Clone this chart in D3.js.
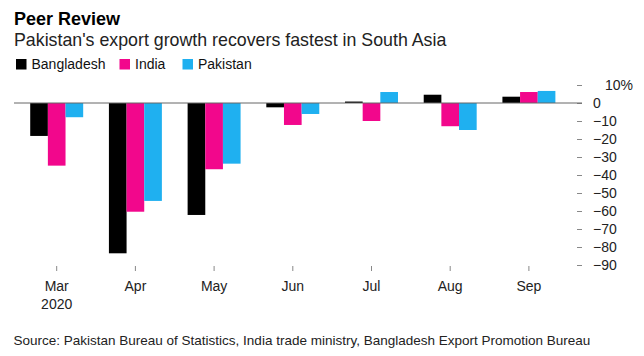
<!DOCTYPE html>
<html><head><meta charset="utf-8">
<script src="https://cdn.jsdelivr.net/npm/d3@7/dist/d3.min.js"></script>
<style>
body{margin:0;background:#fff;}
svg{display:block;font-family:"Liberation Sans",Arial,sans-serif;}
</style></head>
<body>
<svg id="c" width="644" height="356"></svg>
<script>
const months = ["Mar","Apr","May","Jun","Jul","Aug","Sep"];
const seriesNames = ["Bangladesh","India","Pakistan"];
const bangladesh = [-18.3,-83.5,-62.2,-2.4,0.8,4.6,3.5];
const india = [-34.8,-60.4,-36.8,-12.2,-10.0,-12.9,6.1];
const pakistan = [-7.9,-54.4,-33.7,-6.1,6.1,-15.0,6.7];
const yTicks = [10,0,-10,-20,-30,-40,-50,-60,-70,-80,-90];
const colors = ["#000000","#f2078c","#1fb0f0"];

const seriesValues = [bangladesh, india, pakistan];
const svg = d3.select("#c");

svg.append("text").attr("x",14).attr("y",24.5).attr("font-size",18).attr("font-weight","bold").attr("fill","#000").text("Peer Review");
svg.append("text").attr("x",14).attr("y",45.5).attr("font-size",17.8).attr("fill","#222").text("Pakistan's export growth recovers fastest in South Asia");

// legend
const legX = [16,119.5,182.5];
seriesNames.forEach((n,i)=>{
  svg.append("rect").attr("x",legX[i]).attr("y",59).attr("width",10.5).attr("height",10.5).attr("fill",colors[i]);
  svg.append("text").attr("x",legX[i]+15.5).attr("y",69.3).attr("font-size",14).attr("fill","#111").text(n);
});

const x = d3.scaleBand().domain(months).range([17.35,568.25]).paddingInner(0.327).paddingOuter(0.1635);
const xs = d3.scaleBand().domain(seriesNames).range([0,x.bandwidth()]);
const y = d3.scaleLinear().domain([-90,10]).range([265,85]);

// y axis
const yAxis = d3.axisRight(y).tickValues(yTicks).tickSize(5).tickPadding(11)
  .tickFormat(d=> d===10 ? "10%" : d3.format("d")(d));
const ya = svg.append("g").attr("transform","translate(577,0)").call(yAxis);
ya.select(".domain").remove();
ya.selectAll(".tick line").attr("stroke","#888");
ya.selectAll(".tick text").attr("font-size",14).attr("fill","#222").attr("font-family","'Liberation Sans',Arial,sans-serif")
  .attr("dx", d=> d===10 ? 12 : 0);

// bars
months.forEach((m,mi)=>{
  seriesNames.forEach((s,si)=>{
    const v = seriesValues[si][mi];
    svg.append("rect")
      .attr("x", x(m)+xs(s))
      .attr("width", xs.bandwidth())
      .attr("y", y(Math.max(0,v)))
      .attr("height", Math.abs(y(v)-y(0)))
      .attr("fill", colors[si]);
  });
});

// zero line
svg.append("line").attr("x1",14).attr("x2",582).attr("y1",y(0)).attr("y2",y(0)).attr("stroke","#666").attr("stroke-width",1);

// x axis
const xAxis = d3.axisBottom(x).tickSize(5).tickPadding(10);
const xa = svg.append("g").attr("transform","translate(0,266)").call(xAxis);
xa.select(".domain").remove();
xa.selectAll(".tick line").attr("stroke","#888");
xa.selectAll(".tick text").attr("font-size",14).attr("fill","#222").attr("font-family","'Liberation Sans',Arial,sans-serif");
xa.selectAll(".tick").filter(d=>d==="Mar").append("text")
  .attr("y",43).attr("fill","#222").attr("font-size",14).attr("text-anchor","middle")
  .attr("font-family","'Liberation Sans',Arial,sans-serif").text("2020");

svg.append("text").attr("x",13.5).attr("y",345).attr("font-size",13.5).attr("fill","#222")
  .text("Source: Pakistan Bureau of Statistics, India trade ministry, Bangladesh Export Promotion Bureau");
</script>
</body></html>
